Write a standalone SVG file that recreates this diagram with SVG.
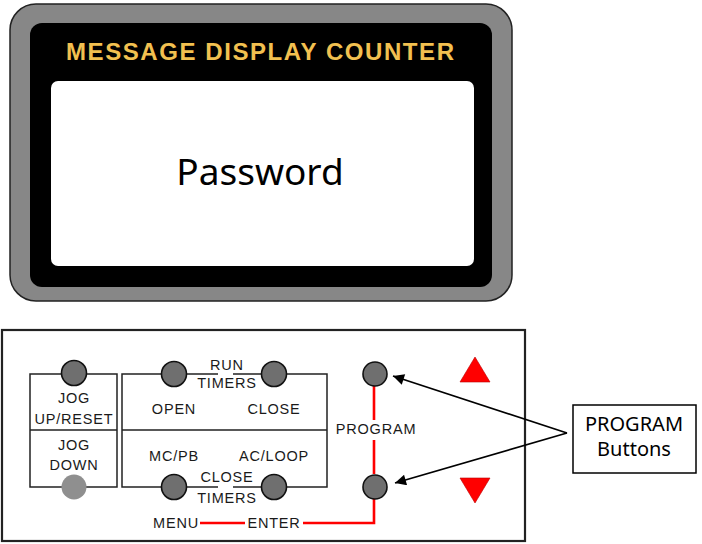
<svg xmlns="http://www.w3.org/2000/svg" width="702" height="544" viewBox="0 0 702 544">
<style>
.lbl{font-family:"Liberation Sans",Arial,sans-serif;font-size:14.5px;fill:#1a1a1a;text-anchor:middle;letter-spacing:0.8px}
.btn{fill:#6f6f6f;stroke:#111;stroke-width:1.6}
.box{fill:none;stroke:#222;stroke-width:1.5}
.red{fill:none;stroke:#ff0000;stroke-width:2.6}
.call{font-family:"Noto Sans","Liberation Sans",sans-serif;font-size:20px;fill:#000;text-anchor:middle}
</style>
<defs>
<marker id="ah" viewBox="0 0 10 10" refX="10" refY="5" markerWidth="14" markerHeight="11" markerUnits="userSpaceOnUse" orient="auto">
<path d="M0,0 L10,5 L0,10 z" fill="#000"/>
</marker>
</defs>
<rect width="702" height="544" fill="#fff"/>
<g id="display">
<rect x="10" y="4" width="502" height="297" rx="26" fill="#878787" stroke="#222" stroke-width="1.5"/>
<rect x="30" y="23" width="462" height="264" rx="12" fill="#000"/>
<rect x="51" y="81" width="423" height="185" rx="7" fill="#fff"/>
<text x="260" y="60" font-family="Liberation Sans,Arial,sans-serif" font-size="24" font-weight="bold" fill="#f2c050" text-anchor="middle" textLength="388" lengthAdjust="spacing">MESSAGE DISPLAY COUNTER</text>
<text x="260" y="185" font-family="Noto Sans,Liberation Sans,sans-serif" font-size="37" fill="#000" text-anchor="middle">Password</text>
</g>
<g id="panel">
<rect x="2" y="330" width="523" height="211" fill="#fff" stroke="#222" stroke-width="2.2"/>
</g>
<g id="jog">
<path class="box" d="M30,374 H117 V487 H30 Z M30,430 H117"/>
<circle class="btn" cx="74" cy="373" r="12.5"/>
<circle cx="74" cy="487" r="12.5" fill="#8f8f8f"/>
<text class="lbl" x="74" y="403">JOG</text>
<text class="lbl" x="74" y="424">UP/RESET</text>
<text class="lbl" x="74" y="450">JOG</text>
<text class="lbl" x="74" y="470">DOWN</text>
</g>
<g id="timers">
<path class="box" d="M218,374 H122 V487 H218 M233,374 H327 V487 H233 M122,430 H327"/>
<circle class="btn" cx="174" cy="374" r="12.5"/>
<circle class="btn" cx="274" cy="374" r="12.5"/>
<circle class="btn" cx="174" cy="487" r="12.5"/>
<circle class="btn" cx="274" cy="487" r="12.5"/>
<text class="lbl" x="227" y="370">RUN</text>
<text class="lbl" x="227" y="388">TIMERS</text>
<text class="lbl" x="174" y="414">OPEN</text>
<text class="lbl" x="274" y="414">CLOSE</text>
<text class="lbl" x="174" y="461">MC/PB</text>
<text class="lbl" x="274" y="461">AC/LOOP</text>
<text class="lbl" x="227" y="482">CLOSE</text>
<text class="lbl" x="227" y="503">TIMERS</text>
</g>
<g id="connectors">
<path class="red" d="M200,523 H245 M303,523 H374 V497 M374,420 V386 M374,474 V440"/>
<line x1="567" y1="433" x2="393" y2="376" stroke="#000" stroke-width="1.8" marker-end="url(#ah)"/>
<line x1="567" y1="433" x2="395" y2="483" stroke="#000" stroke-width="1.8" marker-end="url(#ah)"/>
</g>
<g id="menu-enter">
<text class="lbl" x="176" y="528">MENU</text>
<text class="lbl" x="274" y="528">ENTER</text>
</g>
<g id="program">
<circle class="btn" cx="375" cy="374" r="12"/>
<circle class="btn" cx="375" cy="487" r="12"/>
<text class="lbl" x="376" y="434">PROGRAM</text>
</g>
<g id="arrows-red">
<polygon points="475,357 460,382 490,382" fill="#ff0000" stroke="#b00" stroke-width="0.6"/>
<polygon points="460,478 490,478 475,503" fill="#ff0000" stroke="#b00" stroke-width="0.6"/>
</g>
<g id="callout">
<rect x="573" y="405" width="123" height="68" fill="#fff" stroke="#000" stroke-width="1.5"/>
<text class="call" x="634" y="431">PROGRAM</text>
<text class="call" x="634" y="456">Buttons</text>
</g>
</svg>
